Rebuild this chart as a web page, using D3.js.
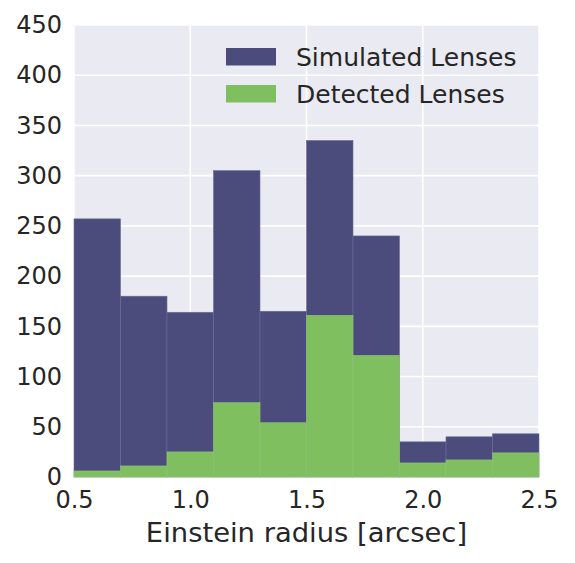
<!DOCTYPE html>
<html><head><meta charset="utf-8">
<script src="https://cdn.jsdelivr.net/npm/d3@7/dist/d3.min.js"></script>
<style>body{margin:0;background:#fff}svg{display:block}</style>
</head><body>
<script>
const binEdges = [0.5,0.7,0.9,1.1,1.3,1.5,1.7,1.9,2.1,2.3,2.5];
const simulated = [257,180,164,305,165,335,240,35,40,43];
const detected = [6,11,25,74,54,161,121,14,17,24];
const xTicks = [0.5,1.0,1.5,2.0,2.5];
const yTicks = [0,50,100,150,200,250,300,350,400,450];
const seriesNames = ["Simulated Lenses","Detected Lenses"];
const colors = ["#4b4c7b","#80bf60"];

const W=575,H=563, m={l:74,r:36,t:25,b:86};
const svg=d3.select("body").append("svg").attr("width",W).attr("height",H);
const x=d3.scaleLinear().domain([0.5,2.5]).range([m.l,W-m.r]);
const y=d3.scaleLinear().domain([0,450]).range([H-m.b,m.t]);
const font="DejaVu Sans";
svg.append("rect").attr("x",x(0.5)).attr("y",y(450)).attr("width",x(2.5)-x(0.5)).attr("height",y(0)-y(450)).attr("fill","#eaeaf2");
const g=svg.append("g");
g.selectAll(".gx").data(xTicks).join("line").attr("x1",d=>x(d)).attr("x2",d=>x(d)).attr("y1",y(0)).attr("y2",y(450)).attr("stroke","#fff").attr("stroke-width",1.6);
g.selectAll(".gy").data(yTicks).join("line").attr("y1",d=>y(d)).attr("y2",d=>y(d)).attr("x1",x(0.5)).attr("x2",x(2.5)).attr("stroke","#fff").attr("stroke-width",1.6);
[simulated,detected].forEach((vals,si)=>{
  svg.append("g").selectAll("rect").data(vals).join("rect")
    .attr("x",(d,i)=>x(binEdges[i])).attr("width",(d,i)=>x(binEdges[i+1])-x(binEdges[i]))
    .attr("y",d=>y(d)).attr("height",d=>y(0)-y(d))
    .attr("fill",colors[si]).attr("stroke",si==0?"#6a6b95":"#8fc476").attr("stroke-width",0.6);
});
const xa=svg.append("g").attr("transform",`translate(0,${y(0)})`).call(d3.axisBottom(x).tickValues(xTicks).tickFormat(d3.format(".1f")).tickSize(0).tickPadding(14));
const ya=svg.append("g").attr("transform",`translate(${x(0.5)},0)`).call(d3.axisLeft(y).tickValues(yTicks).tickSize(0).tickPadding(12));
[xa,ya].forEach(a=>{a.select(".domain").remove();a.selectAll("text").attr("font-family",font).attr("font-size",24).attr("fill","#262626");});
svg.append("text").attr("x",(x(0.5)+x(2.5))/2).attr("y",542).attr("text-anchor","middle").attr("font-family",font).attr("font-size",27.4).attr("fill","#262626").text("Einstein radius [arcsec]");
const lg=svg.append("g");
seriesNames.forEach((n,i)=>{
  const yy=48+i*37;
  lg.append("rect").attr("x",226).attr("y",yy).attr("width",50).attr("height",17.5).attr("fill",colors[i]);
  lg.append("text").attr("x",296).attr("y",66+i*36.5).attr("font-family",font).attr("font-size",25).attr("fill","#262626").text(n);
});
</script>
</body></html>
